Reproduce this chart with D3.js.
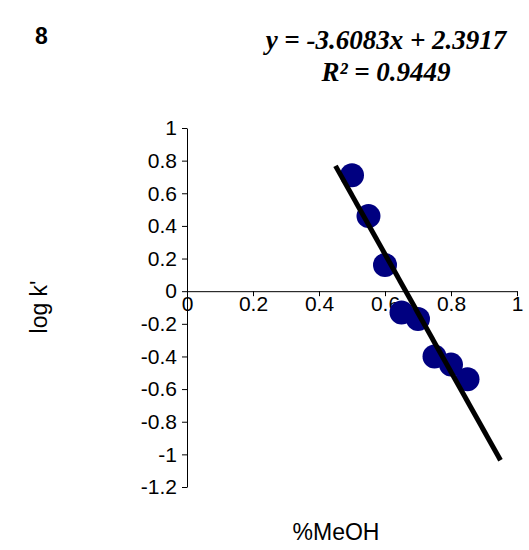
<!DOCTYPE html>
<html><head><meta charset="utf-8">
<script src="https://cdn.jsdelivr.net/npm/d3@7"></script>
<style>body{margin:0;background:#fff}</style></head>
<body><svg id="c" width="529" height="550"></svg>
<script>
const xVals = [0.5, 0.55, 0.6, 0.65, 0.7, 0.75, 0.8, 0.85];
const yVals = [0.71, 0.46, 0.16, -0.13, -0.17, -0.40, -0.45, -0.54];
const slope = -3.6083, intercept = 2.3917;
const fitRange = [0.45, 0.95];
const xTicks = [0, 0.2, 0.4, 0.6, 0.8, 1];
const yTicks = [1, 0.8, 0.6, 0.4, 0.2, 0, -0.2, -0.4, -0.6, -0.8, -1, -1.2];

const svg = d3.select("#c");
const x = d3.scaleLinear().domain([0, 1]).range([187, 517]);
const y = d3.scaleLinear().domain([-1.2, 1]).range([487, 128]);
const font = "Arial, 'Liberation Sans', sans-serif";
const fmt = d => String(+d.toFixed(1));

svg.append("g").attr("transform", `translate(0,${y(0)})`)
  .call(d3.axisBottom(x).tickValues(xTicks).tickFormat(fmt).tickSize(5).tickSizeOuter(0))
  .call(g => g.selectAll("text").style("font-size", "21px").style("font-family", font).attr("dy", "0.55em").attr("fill", "#000"))
  .call(g => g.selectAll("line,path").attr("stroke", "#000"));
svg.append("g").attr("transform", `translate(${x(0)},0)`)
  .call(d3.axisLeft(y).tickValues(yTicks).tickFormat(fmt).tickSize(5).tickSizeOuter(0))
  .call(g => g.selectAll("text").style("font-size", "21px").style("font-family", font).attr("fill", "#000").attr("dx", "-0.1em"))
  .call(g => g.selectAll("line,path").attr("stroke", "#000"));

svg.selectAll("circle").data(xVals).join("circle")
  .attr("cx", d => x(d)).attr("cy", (d, i) => y(yVals[i])).attr("r", 12)
  .attr("fill", "#000080");

svg.append("line")
  .attr("x1", x(fitRange[0])).attr("y1", y(slope * fitRange[0] + intercept))
  .attr("x2", x(fitRange[1])).attr("y2", y(slope * fitRange[1] + intercept))
  .attr("stroke", "#000").attr("stroke-width", 5);

svg.append("text").attr("x", 35).attr("y", 44).style("font-family", font)
  .attr("font-weight", "bold").style("font-size", "23px").text("8");
const eq = svg.append("g").style("font-family", "'Liberation Serif', 'Times New Roman', serif")
  .attr("font-weight", "bold").attr("font-style", "italic").style("font-size", "27px").attr("text-anchor", "middle");
eq.append("text").attr("x", 386).attr("y", 49).text("y = -3.6083x + 2.3917");
eq.append("text").attr("x", 386).attr("y", 81).text("R² = 0.9449");

svg.append("text").attr("transform", "translate(47,307) rotate(-90)").attr("text-anchor", "middle")
  .style("font-family", font).style("font-size", "23px").text("log k'");
svg.append("text").attr("x", 336).attr("y", 540).attr("text-anchor", "middle")
  .style("font-family", font).style("font-size", "23px").text("%MeOH");
</script></body></html>
